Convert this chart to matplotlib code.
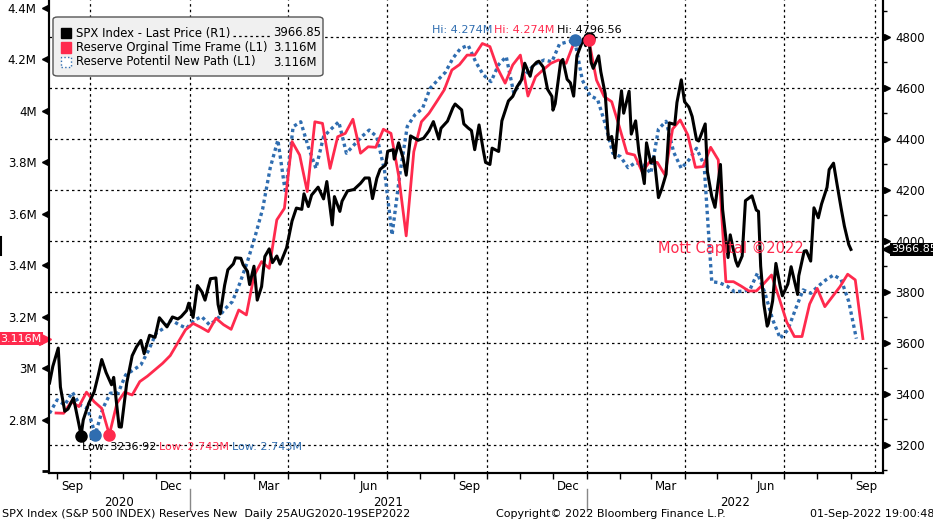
import matplotlib
matplotlib.use("Agg")
import matplotlib.pyplot as plt
import matplotlib.dates as mdates
import matplotlib.transforms as mtransforms
from matplotlib.patches import FancyBboxPatch, Rectangle
from matplotlib.lines import Line2D
import numpy as np
import pandas as pd

W, H = 933, 522
RED = "#ff2a4d"
BLUE = "#2f6db0"

# SPX Index last price (right axis)
spx_dates = [
    "2020-08-25", "2020-08-28", "2020-09-02", "2020-09-04", "2020-09-08", "2020-09-11",
    "2020-09-16", "2020-09-21", "2020-09-23", "2020-09-25", "2020-09-30", "2020-10-05",
    "2020-10-09", "2020-10-12", "2020-10-16", "2020-10-21", "2020-10-23", "2020-10-28",
    "2020-10-30", "2020-11-04", "2020-11-09", "2020-11-13", "2020-11-17", "2020-11-20",
    "2020-11-25", "2020-11-30", "2020-12-04", "2020-12-09", "2020-12-11", "2020-12-16",
    "2020-12-21", "2020-12-24", "2020-12-29", "2020-12-31",
    "2021-01-04", "2021-01-08", "2021-01-12", "2021-01-15", "2021-01-20", "2021-01-25",
    "2021-01-27", "2021-01-29", "2021-02-02", "2021-02-05", "2021-02-10", "2021-02-12",
    "2021-02-17", "2021-02-19", "2021-02-23", "2021-02-25", "2021-03-01", "2021-03-04",
    "2021-03-08", "2021-03-11", "2021-03-15", "2021-03-18", "2021-03-22", "2021-03-25",
    "2021-03-31", "2021-04-05", "2021-04-09", "2021-04-14", "2021-04-16", "2021-04-20",
    "2021-04-23", "2021-04-29", "2021-05-04", "2021-05-07", "2021-05-12", "2021-05-14",
    "2021-05-19", "2021-05-21", "2021-05-26", "2021-06-01", "2021-06-07", "2021-06-11",
    "2021-06-15", "2021-06-18", "2021-06-22", "2021-06-25", "2021-06-30", "2021-07-02",
    "2021-07-07", "2021-07-08", "2021-07-12", "2021-07-16", "2021-07-19", "2021-07-23",
    "2021-07-27", "2021-07-30", "2021-08-04", "2021-08-09", "2021-08-13", "2021-08-18",
    "2021-08-20", "2021-08-26", "2021-08-31", "2021-09-02", "2021-09-08", "2021-09-10",
    "2021-09-14", "2021-09-17", "2021-09-20", "2021-09-24", "2021-09-28", "2021-09-30",
    "2021-10-04", "2021-10-06", "2021-10-12", "2021-10-15", "2021-10-21", "2021-10-25",
    "2021-10-29", "2021-11-02", "2021-11-05", "2021-11-10", "2021-11-12", "2021-11-16",
    "2021-11-18", "2021-11-22", "2021-11-26", "2021-11-30", "2021-12-01", "2021-12-03",
    "2021-12-08", "2021-12-10", "2021-12-14", "2021-12-17", "2021-12-20", "2021-12-23",
    "2021-12-29", "2021-12-31",
    "2022-01-03", "2022-01-05", "2022-01-07", "2022-01-12", "2022-01-14", "2022-01-18",
    "2022-01-21", "2022-01-24", "2022-01-27", "2022-01-31", "2022-02-02", "2022-02-04",
    "2022-02-09", "2022-02-11", "2022-02-15", "2022-02-18", "2022-02-23", "2022-02-25",
    "2022-03-01", "2022-03-04", "2022-03-08", "2022-03-11", "2022-03-15", "2022-03-18",
    "2022-03-23", "2022-03-25", "2022-03-29", "2022-04-01", "2022-04-05", "2022-04-08",
    "2022-04-12", "2022-04-14", "2022-04-20", "2022-04-22", "2022-04-26", "2022-04-29",
    "2022-05-04", "2022-05-06", "2022-05-11", "2022-05-13", "2022-05-18", "2022-05-20",
    "2022-05-24", "2022-05-27", "2022-06-02", "2022-06-06", "2022-06-08", "2022-06-10",
    "2022-06-13", "2022-06-16", "2022-06-17", "2022-06-21", "2022-06-24", "2022-06-28",
    "2022-06-30", "2022-07-05", "2022-07-08", "2022-07-14", "2022-07-15", "2022-07-20",
    "2022-07-22", "2022-07-26", "2022-07-29", "2022-08-02", "2022-08-05", "2022-08-10",
    "2022-08-12", "2022-08-16", "2022-08-19", "2022-08-23", "2022-08-26", "2022-08-30",
    "2022-09-01",
]
spx_close = [
    3443, 3508, 3580, 3427, 3332, 3341,
    3385, 3281, 3236.92, 3298, 3363, 3408,
    3477, 3535, 3484, 3436, 3465, 3271,
    3270, 3443, 3550, 3585, 3610, 3558,
    3630, 3622, 3699, 3673, 3663, 3702,
    3694, 3703, 3727, 3756,
    3700, 3825, 3801, 3768, 3852, 3855,
    3751, 3714, 3826, 3887, 3910, 3934,
    3932, 3907, 3881, 3829, 3901, 3768,
    3821, 3939, 3969, 3915, 3941, 3909,
    3973, 4078, 4129, 4124, 4185, 4135,
    4180, 4211, 4165, 4233, 4063, 4174,
    4116, 4156, 4196, 4202, 4226, 4247,
    4247, 4166, 4246, 4281, 4298, 4352,
    4358, 4321, 4385, 4327, 4258, 4412,
    4402, 4395, 4403, 4432, 4468, 4400,
    4442, 4470, 4523, 4537, 4514, 4459,
    4443, 4433, 4358, 4455, 4353, 4308,
    4300, 4364, 4351, 4471, 4549, 4567,
    4605, 4631, 4697, 4646, 4683, 4701,
    4705, 4682, 4595, 4567, 4513, 4538,
    4701, 4712, 4634, 4620, 4568, 4726,
    4793, 4766,
    4796.56, 4701, 4677, 4726, 4663, 4577,
    4398, 4410, 4326, 4516, 4589, 4501,
    4587, 4419, 4471, 4349, 4225, 4385,
    4306, 4329, 4170, 4204, 4262, 4463,
    4457, 4543, 4632, 4546, 4525, 4488,
    4397, 4392, 4459, 4272, 4175, 4132,
    4300, 4123, 3935, 4024, 3923, 3901,
    3941, 4158, 4177, 4121, 4116, 3901,
    3750, 3666, 3675, 3765, 3912, 3821,
    3785, 3831, 3899, 3790, 3863, 3960,
    3962, 3921, 4130, 4091, 4145, 4210,
    4280, 4305, 4228, 4128, 4058, 3986,
    3966.85,
]

# Reserves, original time frame (weekly, millions, left axis)
orig_start = "2020-08-31"
res_orig = [
    2.827, 2.826, 2.871, 2.852, 2.908, 2.871, 2.845, 2.743, 2.865, 2.908,
    2.897, 2.949, 2.970, 2.995, 3.020, 3.050, 3.100, 3.150, 3.175, 3.160,
    3.143, 3.195, 3.170, 3.152, 3.227, 3.208, 3.360, 3.415, 3.389, 3.577,
    3.622, 3.881, 3.829, 3.687, 3.958, 3.952, 3.777, 3.900, 3.913, 3.968,
    3.836, 3.861, 3.859, 3.929, 3.913, 3.750, 3.515, 3.842, 3.958, 3.991,
    4.036, 4.082, 4.159, 4.180, 4.217, 4.217, 4.262, 4.250, 4.166, 4.108,
    4.179, 4.217, 4.058, 4.133, 4.160, 4.185, 4.198, 4.185, 4.262, 4.268,
    4.274, 4.120, 4.056, 4.036, 3.939, 3.836, 3.829, 3.764, 3.803, 3.800,
    3.751, 3.930, 3.965, 3.907, 3.781, 3.784, 3.859, 3.810, 3.337, 3.337,
    3.320, 3.301, 3.301, 3.330, 3.363, 3.273, 3.180, 3.124, 3.124, 3.250,
    3.311, 3.240, 3.279, 3.318, 3.366, 3.344, 3.116,
]

# Reserves, potential new path (weekly, millions, left axis)
path_start = "2020-08-25"
res_path = [
    2.826, 2.878, 2.858, 2.908, 2.858, 2.845, 2.743, 2.845, 2.904, 2.904,
    2.975, 2.994, 3.014, 3.070, 3.137, 3.156, 3.188, 3.170, 3.156, 3.188,
    3.201, 3.170, 3.190, 3.230, 3.259, 3.331, 3.415, 3.512, 3.620, 3.780,
    3.887, 3.680, 3.939, 3.958, 3.860, 3.777, 3.900, 3.930, 3.958, 3.836,
    3.868, 3.900, 3.926, 3.900, 3.771, 3.518, 3.750, 3.940, 3.985, 4.010,
    4.088, 4.120, 4.150, 4.205, 4.243, 4.255, 4.190, 4.140, 4.114, 4.180,
    4.211, 4.068, 4.120, 4.160, 4.185, 4.198, 4.191, 4.260, 4.268, 4.274,
    4.120, 4.060, 4.045, 3.950, 3.836, 3.823, 3.780, 3.800, 3.790, 3.758,
    3.930, 3.960, 3.840, 3.777, 3.810, 3.855, 3.790, 3.337, 3.333, 3.320,
    3.298, 3.300, 3.305, 3.370, 3.292, 3.190, 3.117, 3.150, 3.230, 3.305,
    3.292, 3.320, 3.344, 3.363, 3.345, 3.260, 3.116,
]

left_ticks = [2.6, 2.8, 3.0, 3.2, 3.4, 3.6, 3.8, 4.0, 4.2, 4.4]
right_ticks = [3200, 3400, 3600, 3800, 4000, 4200, 4400, 4600, 4800]
right_minor = [3100, 3300, 3500, 3700, 3900, 4100, 4300, 4500, 4700, 4900]
grid_dates = ["2020-10-01", "2021-01-01", "2021-04-01", "2021-07-01", "2021-10-01",
              "2022-01-01", "2022-04-01", "2022-07-01", "2022-09-23"]

spx_dt = pd.to_datetime(spx_dates)
orig_dt = pd.date_range(orig_start, periods=len(res_orig), freq="7D")
path_dt = pd.date_range(path_start, periods=len(res_path), freq="7D")

plt.rcParams["font.family"] = "DejaVu Sans"
fig = plt.figure(figsize=(W / 100, H / 100), dpi=100)
ax = fig.add_axes([49 / W, 1 - 473 / H, (883 - 49) / W, 473 / H])
ax2 = ax.twinx()
ax.set_zorder(1)
ax2.set_zorder(2)
ax.patch.set_visible(False)

ax.set_xlim(pd.Timestamp("2020-08-24 12:00"), pd.Timestamp("2022-09-30 12:00"))
ax.set_ylim(2.594, 4.431)
ax2.set_ylim(3090, 4945)

# grid
hgrid_tr = mtransforms.blended_transform_factory(ax.transAxes, ax2.transData)
for v in right_ticks:
    ax.plot([0, 1], [v, v], transform=hgrid_tr, color="k", lw=0.9, ls=(0, (2, 2.5)), zorder=0.5)
for d in grid_dates:
    ax.axvline(pd.Timestamp(d), color="k", lw=0.9, ls=(0, (2, 2.5)), zorder=0.5)

# series
ax.plot(path_dt, res_path, color=BLUE, lw=2.4, ls=(0, (1, 1)), zorder=2)
ax.plot(orig_dt, res_orig, color=RED, lw=2.0, zorder=3, solid_joinstyle="round")
ax2.plot(spx_dt, spx_close, color="k", lw=2.2, zorder=3, solid_joinstyle="round")

# spines
for a in (ax, ax2):
    a.spines["top"].set_visible(False)
    for s in ("left", "right", "bottom"):
        a.spines[s].set_linewidth(1.5)

# x axis
ax.xaxis.set_major_locator(mdates.MonthLocator())
ax.xaxis.set_major_formatter(plt.NullFormatter())
ax.xaxis.set_minor_locator(mdates.MonthLocator(bymonth=[3, 6, 9, 12], bymonthday=15))
ax.xaxis.set_minor_formatter(mdates.DateFormatter("%b"))
ax.tick_params(axis="x", which="major", length=4, width=1)
ax.tick_params(axis="x", which="minor", length=0, pad=5, labelsize=8.5)

yr_tr = mtransforms.blended_transform_factory(ax.transData, ax.transAxes)
x0, x1 = ax.get_xlim()
bounds = [x0, mdates.date2num(pd.Timestamp("2021-01-01")),
          mdates.date2num(pd.Timestamp("2022-01-01")), x1]
for i, yr in enumerate(["2020", "2021", "2022"]):
    ax.text((bounds[i] + bounds[i + 1]) / 2, -29 / 473, yr, transform=yr_tr,
            ha="center", va="center", fontsize=8.5)
for b in bounds[1:3]:
    ax.plot([b, b], [-16 / 473, -38 / 473], transform=yr_tr, color="#888888",
            lw=1, clip_on=False)

# left axis
ax.set_yticks(left_ticks)
ax.yaxis.set_major_formatter(
    plt.FuncFormatter(lambda v, p: "" if v < 2.7 else f"{v:.1f}".rstrip("0").rstrip(".") + "M"))
ax.tick_params(axis="y", length=0, pad=9, labelsize=8.5)
ax.plot([-0.0045] * (len(left_ticks) - 1), left_ticks[1:], ls="none", marker="<", ms=4.5,
        color="k", transform=ax.get_yaxis_transform(), clip_on=False)
ax.plot([-0.0045], left_ticks[:1], ls="none", marker="_", ms=5, mew=2,
        color="k", transform=ax.get_yaxis_transform(), clip_on=False)

# right axis
ax2.set_yticks(right_ticks)
ax2.set_yticks(right_minor, minor=True)
ax2.tick_params(axis="y", which="major", length=0, pad=9, labelsize=8.5)
ax2.tick_params(axis="y", which="minor", length=3, width=1)
ax2.plot([1.0045] * len(right_ticks), right_ticks, ls="none", marker=">", ms=4.5,
         color="k", transform=ax2.get_yaxis_transform(), clip_on=False)

# last value tags
last_res = res_orig[-1]
ax.plot([-0.005], [last_res], marker=">", ms=8, color=RED,
        transform=ax.get_yaxis_transform(), clip_on=False, zorder=6)
ax.text(-0.009, last_res, f"{last_res:.3f}M", transform=ax.get_yaxis_transform(),
        ha="right", va="center", color="white", fontsize=8, zorder=7,
        bbox=dict(boxstyle="square,pad=0.15", fc=RED, ec="none"))
last_spx = spx_close[-1]
ax2.plot([1.006], [last_spx], marker="<", ms=8, color="k",
         transform=ax2.get_yaxis_transform(), clip_on=False, zorder=6)
ax2.text(1.010, last_spx, f"{last_spx:.2f}", transform=ax2.get_yaxis_transform(),
         ha="left", va="center", color="white", fontsize=8, zorder=7,
         bbox=dict(boxstyle="square,pad=0.15", fc="k", ec="none"))

# high / low dots
i_hi_s, i_lo_s = int(np.argmax(spx_close)), int(np.argmin(spx_close))
i_hi_r, i_lo_r = int(np.argmax(res_orig)), int(np.argmin(res_orig))
i_hi_p, i_lo_p = int(np.argmax(res_path)), int(np.argmin(res_path))
for i in (i_hi_s, i_lo_s):
    ax2.plot(spx_dt[i], spx_close[i], "o", ms=8, color="k", zorder=8)
for i in (i_hi_p, i_lo_p):
    ax2.plot(path_dt[i], res_path[i], "o", ms=8, color=BLUE, zorder=9, transform=ax.transData)
for i in (i_hi_r, i_lo_r):
    ax2.plot(orig_dt[i], res_orig[i], "o", ms=8, color=RED, zorder=10, transform=ax.transData)

fig.canvas.draw()
rend = fig.canvas.get_renderer()
ident = mtransforms.IdentityTransform()
lab_kw = dict(transform=ident, va="center", fontsize=8, zorder=10)

hx, hy = ax2.transData.transform((mdates.date2num(spx_dt[i_hi_s]), spx_close[i_hi_s]))
t = fig.text(hx, hy + 8, f"Hi: {spx_close[i_hi_s]:.2f}", ha="center", color="k", **lab_kw)
bb = t.get_window_extent(rend)
t = fig.text(bb.x0 - 2, hy + 8, f"Hi: {res_orig[i_hi_r]:.3f}M", ha="right", color=RED, **lab_kw)
bb = t.get_window_extent(rend)
fig.text(bb.x0 - 2, hy + 8, f"Hi: {res_path[i_hi_p]:.3f}M", ha="right", color=BLUE, **lab_kw)

lx, ly = ax2.transData.transform((mdates.date2num(spx_dt[i_lo_s]), spx_close[i_lo_s]))
t = fig.text(lx + 1, ly - 11, f"Low: {spx_close[i_lo_s]:.2f}", ha="left", color="k", **lab_kw)
bb = t.get_window_extent(rend)
t = fig.text(bb.x1 + 3, ly - 11, f"Low: {res_orig[i_lo_r]:.3f}M", ha="left", color=RED, **lab_kw)
bb = t.get_window_extent(rend)
fig.text(bb.x1 + 3, ly - 11, f"Low: {res_path[i_lo_p]:.3f}M", ha="left", color=BLUE, **lab_kw)

# legend
def fx(x):
    return x / W

def fy(y):
    return 1 - y / H

fig.add_artist(FancyBboxPatch((fx(53), fy(76)), fx(270), 59 / H,
                              boxstyle="round,pad=0,rounding_size=0.005",
                              transform=fig.transFigure, fc="#f0f0f0", ec="#555555",
                              lw=1, zorder=20))
rows = [("SPX Index - Last Price (R1)", f"{last_spx:.2f}", "k", "k", "-"),
        ("Reserve Orginal Time Frame (L1)", f"{res_orig[-1]:.3f}M", RED, RED, "-"),
        ("Reserve Potentil New Path (L1)", f"{res_path[-1]:.3f}M", "white", BLUE, ":")]
for j, (lab, val, fc, ec, ls) in enumerate(rows):
    yc = 33 + j * 14.5
    fig.add_artist(Rectangle((fx(61), fy(yc + 5)), 10 / W, 10 / H, transform=fig.transFigure,
                             fc=fc, ec=ec, ls=ls, lw=1, zorder=21))
    t = fig.text(fx(76), fy(yc), lab, va="center", fontsize=8.4, zorder=22)
    fig.text(fx(273), fy(yc), val, va="center", fontsize=8.4, zorder=22)
    if j == 0:
        bb = t.get_window_extent(rend)
        fig.add_artist(Line2D([bb.x1 + 3, 270], [H - 36, H - 36], transform=ident,
                              color="k", lw=0.9, ls=(0, (2, 2.5)), zorder=22))

fig.text(fx(658), fy(248), "Mott Capital ©2022", color=RED, fontsize=10.5, va="center", zorder=10)
fig.add_artist(Line2D([1, 1], [H - 237, H - 255], transform=ident, color="k", lw=1.5))

fig.text(fx(2), fy(514), "SPX Index (S&P 500 INDEX) Reserves New  Daily 25AUG2020-19SEP2022",
         fontsize=8, va="center")
fig.text(fx(496), fy(514), "Copyright© 2022 Bloomberg Finance L.P.", fontsize=8, va="center")
fig.text(fx(810), fy(514), "01-Sep-2022 19:00:48", fontsize=8, va="center")

fig.savefig("out.png", dpi=100)
